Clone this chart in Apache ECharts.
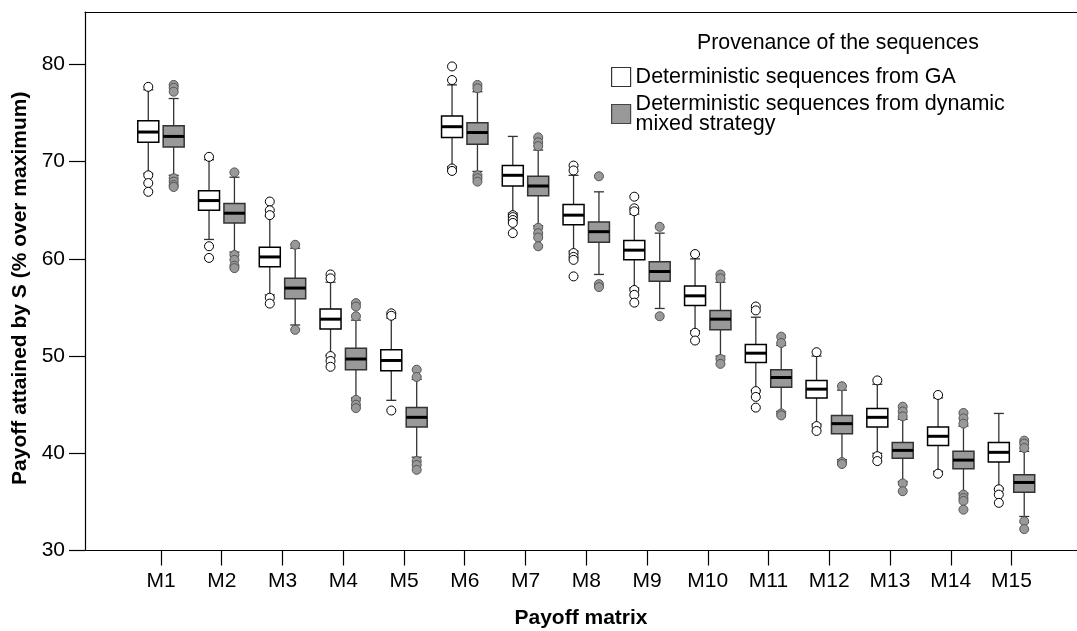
<!DOCTYPE html>
<html>
<head>
<meta charset="utf-8">
<script src="https://cdn.jsdelivr.net/npm/echarts@6/dist/echarts.min.js"></script>
<style>
  html, body { margin: 0; padding: 0; background: #fff; }
  #chartDiv { width: 1077px; height: 631px; }
</style>
</head>
<body>
<div id="chartDiv"></div>
<script>
var categories = ['M1','M2','M3','M4','M5','M6','M7','M8','M9','M10','M11','M12','M13','M14','M15'];
var yTicks = [30, 40, 50, 60, 70, 80];

var gaName = 'Deterministic sequences from GA';
var mixName = 'Deterministic sequences from dynamic\nmixed strategy';

// [low whisker, Q1, median, Q3, high whisker]
var gaBoxes = [
    [68.8, 72.0, 73.05, 74.2, 77.4],
    [62.0, 65.0, 66.0, 67.0, 70.2],
    [56.3, 59.2, 60.2, 61.2, 64.4],
    [50.1, 52.8, 53.8, 54.85, 57.6],
    [45.45, 48.5, 49.55, 50.65, 53.9],
    [69.5, 72.5, 73.6, 74.7, 77.9],
    [64.7, 67.5, 68.6, 69.6, 72.6],
    [60.8, 63.5, 64.5, 65.6, 68.6],
    [57.0, 59.9, 60.9, 61.9, 64.6],
    [52.6, 55.2, 56.2, 57.2, 60.0],
    [46.5, 49.35, 50.3, 51.2, 54.0],
    [43.0, 45.7, 46.6, 47.5, 50.0],
    [40.0, 42.7, 43.7, 44.6, 47.1],
    [38.15, 40.8, 41.75, 42.7, 45.7],
    [36.4, 39.1, 40.1, 41.1, 44.1]
];
var mixBoxes = [
    [68.6, 71.5, 72.6, 73.7, 76.5],
    [60.7, 63.7, 64.7, 65.7, 68.4],
    [53.2, 55.9, 57.0, 58.0, 61.1],
    [45.7, 48.6, 49.7, 50.8, 53.7],
    [39.6, 42.7, 43.7, 44.7, 47.6],
    [69.0, 71.8, 73.0, 74.0, 77.2],
    [63.4, 66.5, 67.5, 68.5, 71.2],
    [58.4, 61.7, 62.8, 63.8, 66.9],
    [54.9, 57.7, 58.7, 59.7, 62.65],
    [50.0, 52.7, 53.8, 54.7, 57.6],
    [44.3, 46.8, 47.8, 48.6, 51.1],
    [39.35, 42.0, 43.05, 43.9, 46.5],
    [37.1, 39.5, 40.3, 41.1, 43.5],
    [35.9, 38.4, 39.3, 40.2, 42.8],
    [33.5, 36.0, 37.0, 37.8, 40.2]
];
// outliers per matrix
var gaOutliers = [
    [77.7, 68.6, 67.8, 66.9],
    [70.5, 61.3, 60.1],
    [65.9, 65.0, 64.5, 56.0, 55.4],
    [58.4, 58.0, 50.0, 49.5, 48.9],
    [54.4, 54.15, 44.4],
    [79.8, 78.4, 69.3, 69.05],
    [64.5, 64.3, 64.0, 63.7, 62.65],
    [69.6, 69.1, 60.6, 60.2, 59.9, 58.2],
    [66.4, 65.2, 64.9, 56.8, 56.3, 55.5],
    [60.5, 52.4, 51.6],
    [55.1, 54.7, 46.4, 45.8, 44.7],
    [50.4, 42.8, 42.3],
    [47.5, 39.7, 39.2],
    [46.0, 37.9],
    [36.3, 35.75, 34.9]
];
var mixOutliers = [
    [77.9, 77.6, 77.2, 68.3, 67.95, 67.6, 67.4],
    [68.9, 60.4, 59.9, 59.3, 59.05],
    [61.45, 52.7],
    [55.45, 55.1, 54.1, 45.5, 45.0, 44.65],
    [48.6, 47.85, 39.2, 38.8, 38.3],
    [77.9, 77.55, 68.6, 68.3, 67.95],
    [72.5, 72.0, 71.6, 63.2, 62.65, 62.2, 61.3],
    [68.5, 57.4, 57.1],
    [63.3, 54.1],
    [58.4, 58.0, 49.7, 49.2],
    [52.0, 51.35, 44.1, 43.9],
    [46.9, 39.1, 38.9],
    [44.8, 44.3, 43.8, 36.9, 36.1],
    [44.15, 43.6, 43.05, 35.75, 35.4, 35.1, 34.2],
    [41.3, 41.0, 40.55, 33.0, 32.2]
];

var fontName = 'Liberation Sans, Arial, sans-serif';
var boxShift = 12.7;

function boxRows(boxes) {
    return boxes.map(function (b, i) { return [i].concat(b); });
}
function pointRows(list) {
    var rows = [];
    list.forEach(function (vals, i) {
        vals.forEach(function (v) { rows.push([i, v]); });
    });
    return rows;
}

function boxRenderer(shift, fill, edge) {
    return function (params, api) {
        var i = api.value(0);
        var x = api.coord([i, api.value(3)])[0] + shift;
        var yLo = api.coord([i, api.value(1)])[1];
        var yQ1 = api.coord([i, api.value(2)])[1];
        var yMed = api.coord([i, api.value(3)])[1];
        var yQ3 = api.coord([i, api.value(4)])[1];
        var yHi = api.coord([i, api.value(5)])[1];
        var half = 10.5, cap = 5;
        var wStyle = { stroke: '#333', lineWidth: 1.3 };
        return {
            type: 'group',
            children: [
                { type: 'line', shape: { x1: x, y1: yHi, x2: x, y2: yQ3 }, style: wStyle },
                { type: 'line', shape: { x1: x, y1: yQ1, x2: x, y2: yLo }, style: wStyle },
                { type: 'line', shape: { x1: x - cap, y1: yHi, x2: x + cap, y2: yHi }, style: wStyle },
                { type: 'line', shape: { x1: x - cap, y1: yLo, x2: x + cap, y2: yLo }, style: wStyle },
                { type: 'rect', shape: { x: x - half, y: yQ3, width: half * 2, height: yQ1 - yQ3 },
                  style: { fill: fill, stroke: edge, lineWidth: 1.5 } },
                { type: 'line', shape: { x1: x - half, y1: yMed, x2: x + half, y2: yMed },
                  style: { stroke: '#000', lineWidth: 3 } }
            ]
        };
    };
}

var chart = echarts.init(document.getElementById('chartDiv'));

var option = {
    animation: false,
    backgroundColor: '#fff',
    textStyle: { fontFamily: fontName, color: '#000' },
    title: {
        text: 'Provenance of the sequences',
        left: 692,
        top: 28,
        textStyle: { fontFamily: fontName, fontSize: 21.3, fontWeight: 'normal', color: '#000' }
    },
    legend: {
        orient: 'vertical',
        left: 611,
        top: 66,
        padding: 0,
        itemWidth: 19,
        itemHeight: 19,
        itemGap: 5,
        icon: 'rect',
        textStyle: { fontFamily: fontName, fontSize: 21.5, color: '#000', lineHeight: 20 },
        data: [
            { name: gaName, itemStyle: { color: '#fff', borderColor: '#333', borderWidth: 1.2 } },
            { name: mixName, itemStyle: { color: '#999', borderColor: '#444', borderWidth: 1.2 } }
        ]
    },
    grid: [
        { left: 85, right: 0, top: 12, bottom: 80.5, outerBoundsMode: 'none' },
        { left: 130.6, right: 35.1, top: 12, bottom: 80.5, outerBoundsMode: 'none' }
    ],
    xAxis: [
        {
            type: 'value', gridIndex: 0, min: 0, max: 1,
            axisLine: { show: true, lineStyle: { color: '#000', width: 1.2 } },
            axisTick: { show: false }, axisLabel: { show: false }, splitLine: { show: false },
            name: 'Payoff matrix', nameLocation: 'middle', nameGap: 57,
            nameTextStyle: { fontFamily: fontName, fontSize: 21, fontWeight: 'bold', color: '#000' }
        },
        {
            type: 'value', gridIndex: 0, position: 'top', min: 0, max: 1,
            axisLine: { show: true, lineStyle: { color: '#000', width: 1.2 } },
            axisTick: { show: false }, axisLabel: { show: false }, splitLine: { show: false }
        },
        {
            type: 'category', gridIndex: 1, data: categories,
            axisLine: { show: false },
            axisTick: { show: true, alignWithLabel: true, length: 15, lineStyle: { color: '#000', width: 1.2 } },
            axisLabel: { fontFamily: fontName, fontSize: 21, color: '#000', margin: 20 },
            splitLine: { show: false }
        }
    ],
    yAxis: [
        {
            type: 'value', gridIndex: 0, min: 30, max: 85.4,
            axisLine: { show: true, lineStyle: { color: '#000', width: 1.2 } },
            axisTick: { show: true, length: 16, customValues: yTicks, lineStyle: { color: '#000', width: 1.2 } },
            axisLabel: { customValues: yTicks, fontFamily: fontName, fontSize: 21, color: '#000', margin: 20 },
            splitLine: { show: false },
            name: 'Payoff attained by S (% over maximum)', nameLocation: 'middle', nameGap: 52,
            nameTextStyle: { fontFamily: fontName, fontSize: 21, fontWeight: 'bold', color: '#000', padding: [0, 14, 0, 0] }
        },
        { type: 'value', gridIndex: 1, min: 30, max: 85.4, show: false }
    ],
    series: [
        {
            name: gaName, type: 'custom', xAxisIndex: 2, yAxisIndex: 1,
            renderItem: boxRenderer(-boxShift, '#fff', '#000'),
            itemStyle: { color: '#fff', borderColor: '#000' },
            encode: { x: 0, y: [1, 2, 3, 4, 5] },
            data: boxRows(gaBoxes), z: 2
        },
        {
            name: mixName, type: 'custom', xAxisIndex: 2, yAxisIndex: 1,
            renderItem: boxRenderer(boxShift, '#999', '#333'),
            itemStyle: { color: '#999', borderColor: '#333' },
            encode: { x: 0, y: [1, 2, 3, 4, 5] },
            data: boxRows(mixBoxes), z: 2
        },
        {
            type: 'scatter', xAxisIndex: 2, yAxisIndex: 1,
            symbol: 'circle', symbolSize: 9, symbolOffset: [-boxShift, 0],
            itemStyle: { color: '#fff', borderColor: '#000', borderWidth: 1, opacity: 1 },
            data: pointRows(gaOutliers), z: 3
        },
        {
            type: 'scatter', xAxisIndex: 2, yAxisIndex: 1,
            symbol: 'circle', symbolSize: 9, symbolOffset: [boxShift, 0],
            itemStyle: { color: '#999', borderColor: '#555', borderWidth: 1, opacity: 1 },
            data: pointRows(mixOutliers), z: 3
        }
    ]
};

chart.setOption(option);
</script>
</body>
</html>
